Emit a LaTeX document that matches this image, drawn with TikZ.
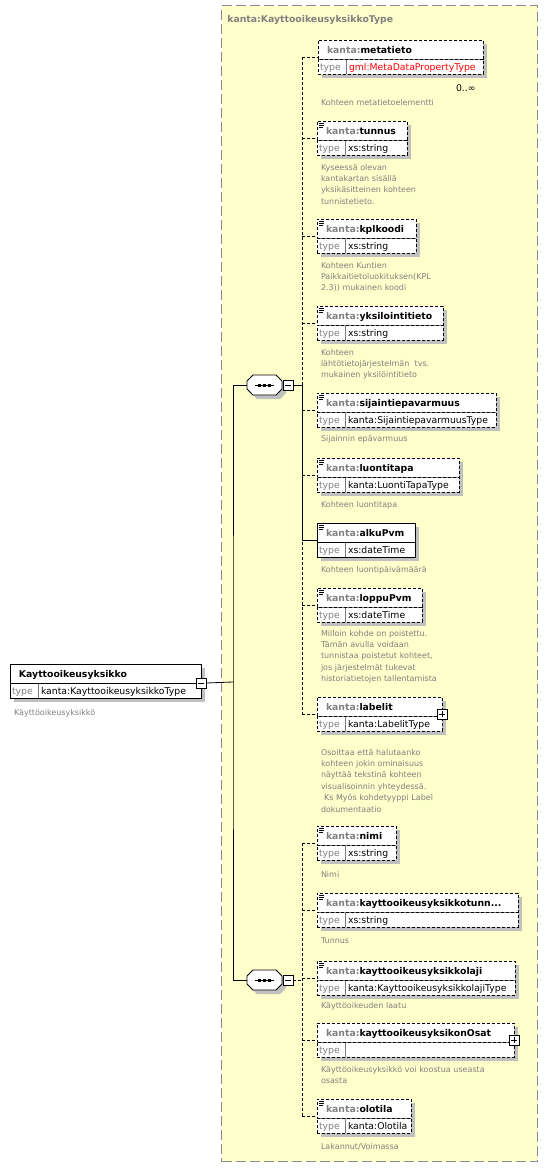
\documentclass[tikz,border=0pt]{standalone}
\usepackage{fontspec}
\setmainfont{DejaVu Sans}
\usetikzlibrary{shadows}

\definecolor{framefill}{HTML}{FFFFCC}
\definecolor{framegray}{HTML}{8C8C8C}
\definecolor{typegray}{HTML}{808080}
\definecolor{shadowgray}{HTML}{C0C0C0}
\definecolor{linegray}{HTML}{7A7A7A}

\tikzset{
  tframe/.style={draw=framegray, line width=1.2pt, dash pattern=on 10pt off 4pt,
    fill=framefill, anchor=north west, inner sep=0pt},
  ttitle/.style={anchor=base west, inner sep=0pt, text=typegray,
    font=\fontsize{9.3}{11}\selectfont\bfseries},
  boxshadow/.style={drop shadow={opacity=1, fill=shadowgray, shadow xshift=4pt, shadow yshift=-4pt}},
  ename/.style={draw, fill=white, anchor=north west, inner sep=0pt, outer sep=0pt,
    text width=#1, minimum height=19pt, text height=8pt, text depth=1pt,
    align=left, font=\fontsize{9.3}{11}\selectfont\bfseries, boxshadow},
  trow/.style={draw, fill=white, anchor=north west, inner sep=0pt, outer sep=0pt,
    text width=#1, minimum height=15pt, text height=9pt, text depth=1pt,
    align=left, font=\fontsize{9.3}{11}\selectfont, boxshadow,
    execute at begin node={\makebox[31pt][l]{\hspace{2pt}\color{typegray}type}},
    path picture={
      \draw[solid, linegray] (path picture bounding box.north west) -- (path picture bounding box.north east);
      \draw[solid, linegray] ([xshift=28pt]path picture bounding box.south west) -- ([xshift=28pt]path picture bounding box.north west);
    }},
  kanta/.style={execute at begin node={\hspace*{9pt}\textcolor{typegray}{kanta:}}},
  rootpad/.style={execute at begin node={\hspace*{9pt}}},
  icon/.style={path picture={
      \draw[solid, line width=0.7pt] ([xshift=2pt,yshift=-2pt]path picture bounding box.north west) -- ++(5pt,0pt)
        ([xshift=2pt,yshift=-4pt]path picture bounding box.north west) -- ++(5pt,0pt)
        ([xshift=2pt,yshift=-6pt]path picture bounding box.north west) -- ++(4pt,0pt);
    }},
  opt/.style={dash pattern=on 3pt off 2pt},
  desc/.style={anchor=base west, inner sep=0pt, outer sep=0pt, text width=215pt,
    align=left, font=\fontsize{8}{11.4}\selectfont, text=typegray},
  mult/.style={anchor=base east, inner sep=0pt, font=\fontsize{9.3}{11}\selectfont},
  mbox/.style={draw, solid, fill=white, minimum size=10pt, inner sep=0pt, outer sep=0pt,
    path picture={
      \draw ([xshift=2pt]path picture bounding box.west) -- ([xshift=-2pt]path picture bounding box.east);
    }},
  pbox/.style={mbox, path picture={
      \draw ([xshift=2pt]path picture bounding box.west) -- ([xshift=-2pt]path picture bounding box.east);
      \draw ([yshift=-2pt]path picture bounding box.north) -- ([yshift=2pt]path picture bounding box.south);
    }},
  seqbox/.style={minimum width=35pt, minimum height=20pt, inner sep=0pt, outer sep=0pt},
  link/.style={draw=black}
}

\begin{document}
\begin{tikzpicture}[x=1pt, y=-1pt, line width=0.8pt]
    \useasboundingbox (0,0) rectangle (547,1168);

    % KayttooikeusyksikkoType frame
    \node[tframe, minimum width=316pt, minimum height=1156pt] (KType) at (221,5) {};
    \node[ttitle] (KTypeL) at (227,22) {kanta:KayttooikeusyksikkoType};

    % root element
    \node[ename=191pt, rootpad] (root) at (10,664) {Kayttooikeusyksikko};
    \node[trow=191pt] (rootT) at (root.south west) {kanta:KayttooikeusyksikkoType};
    \node[mbox] (rootM) at (root.south east) {};
    \node[desc] (rootD) at (14,715) {Käyttöoikeusyksikkö};

    % sequences
    \node[seqbox] (seq1) at (264.5,385) {};
    \node[seqbox] (seq2) at (264.5,980) {};
    \foreach \s in {seq1,seq2} {
      \draw[fill=white, boxshadow]
        ([xshift=6pt]\s.north west) -- ([xshift=-6pt]\s.north east) -- ([yshift=-6pt]\s.north east)
        -- ([yshift=6pt]\s.south east) -- ([xshift=-6pt]\s.south east) -- ([xshift=6pt]\s.south west)
        -- ([yshift=6pt]\s.south west) -- ([yshift=-6pt]\s.north west) -- cycle;
      \draw ([xshift=-9.5pt]\s.center) -- ([xshift=9.5pt]\s.center);
      \foreach \d in {-5,0,5}
        \fill ([xshift=\d pt]\s.center) ++(-1.5pt,-1.5pt) rectangle ++(3pt,3pt);
    }
    \node[mbox, anchor=west] (seq1m) at ([xshift=1pt]seq1.east) {};
    \node[mbox, anchor=west] (seq2m) at ([xshift=1pt]seq2.east) {};
    \coordinate (fork) at (233,682);
    \coordinate (bus1) at (302,385);
    \coordinate (bus2) at (302,980);

    % metatieto
    \node[ename=165pt, opt, kanta] (metatieto) at (318,40) {metatieto};
    \node[trow=165pt, opt] (metatietoT) at (metatieto.south west) {\color{red}gml:MetaDataPropertyType};
    \node[mult] (metatietoM) at (476,91) {0..∞};
    \node[desc] (metatietoD) at (321,105) {Kohteen metatietoelementti};

    % tunnus
    \node[ename=90pt, opt, kanta, icon] (tunnus) at (317,121) {tunnus};
    \node[trow=90pt, opt] (tunnusT) at (tunnus.south west) {xs:string};
    \node[desc] (tunnusD) at (321,170) {Kyseessä olevan\\kantakartan sisällä\\yksikäsitteinen kohteen\\tunnistetieto.};

    % kplkoodi
    \node[ename=99pt, opt, kanta, icon] (kplkoodi) at (317,219) {kplkoodi};
    \node[trow=99pt, opt] (kplkoodiT) at (kplkoodi.south west) {xs:string};
    \node[desc] (kplkoodiD) at (321,268) {Kohteen Kuntien\\Paikkaitietoluokituksen(KPL\\2.3)) mukainen koodi};

    % yksilointitieto
    \node[ename=126pt, opt, kanta, icon] (yksilointitieto) at (317,306) {yksilointitieto};
    \node[trow=126pt, opt] (yksilointitietoT) at (yksilointitieto.south west) {xs:string};
    \node[desc] (yksilointitietoD) at (321,355) {Kohteen\\lähtötietojärjestelmän \ tvs.\\mukainen yksilöintitieto};

    % sijaintiepavarmuus
    \node[ename=179pt, opt, kanta, icon] (sijaintiepavarmuus) at (317,393) {sijaintiepavarmuus};
    \node[trow=179pt, opt] (sijaintiepavarmuusT) at (sijaintiepavarmuus.south west) {kanta:SijaintiepavarmuusType};
    \node[desc] (sijaintiepavarmuusD) at (321,441) {Sijainnin epävarmuus};

    % luontitapa
    \node[ename=142pt, opt, kanta, icon] (luontitapa) at (317,458) {luontitapa};
    \node[trow=142pt, opt] (luontitapaT) at (luontitapa.south west) {kanta:LuontiTapaType};
    \node[desc] (luontitapaD) at (321,507) {Kohteen luontitapa};

    % alkuPvm
    \node[ename=98pt, kanta, icon] (alkuPvm) at (317,523) {alkuPvm};
    \node[trow=98pt] (alkuPvmT) at (alkuPvm.south west) {xs:dateTime};
    \node[desc] (alkuPvmD) at (321,572) {Kohteen luontipäivämäärä};

    % loppuPvm
    \node[ename=105pt, opt, kanta, icon] (loppuPvm) at (317,588) {loppuPvm};
    \node[trow=105pt, opt] (loppuPvmT) at (loppuPvm.south west) {xs:dateTime};
    \node[desc] (loppuPvmD) at (321,636) {Milloin kohde on poistettu.\\Tämän avulla voidaan\\tunnistaa poistetut kohteet,\\jos järjestelmät tukevat\\historiatietojen tallentamista};

    % labelit
    \node[ename=125pt, opt, kanta] (labelit) at (317,697) {labelit};
    \node[trow=125pt, opt] (labelitT) at (labelit.south west) {kanta:LabelitType};
    \node[pbox] (labelitP) at ([yshift=2pt]labelit.south east) {};
    \node[desc] (labelitD) at (321,755) {Osoittaa että halutaanko\\kohteen jokin ominaisuus\\näyttää tekstinä kohteen\\visualisoinnin yhteydessä.\\\hspace*{3pt}Ks Myös kohdetyyppi Label\\dokumentaatio};

    % nimi
    \node[ename=79pt, opt, kanta, icon] (nimi) at (317,826) {nimi};
    \node[trow=79pt, opt] (nimiT) at (nimi.south west) {xs:string};
    \node[desc] (nimiD) at (321,877) {Nimi};

    % kayttooikeusyksikkotunnus
    \node[ename=201pt, opt, kanta, icon] (ktunnus) at (317,893) {kayttooikeusyksikkotunn...};
    \node[trow=201pt, opt] (ktunnusT) at (ktunnus.south west) {xs:string};
    \node[desc] (ktunnusD) at (321,943) {Tunnus};

    % kayttooikeusyksikkolaji
    \node[ename=198pt, opt, kanta, icon] (klaji) at (317,961) {kayttooikeusyksikkolaji};
    \node[trow=198pt, opt] (klajiT) at (klaji.south west) {kanta:KayttooikeusyksikkolajiType};
    \node[desc] (klajiD) at (321,1008) {Käyttöoikeuden laatu};

    % kayttooikeusyksikonOsat
    \node[ename=197pt, opt, kanta] (kosat) at (317,1023) {kayttooikeusyksikonOsat};
    \node[trow=197pt, opt] (kosatT) at (kosat.south west) {};
    \node[pbox] (kosatP) at ([yshift=2pt]kosat.south east) {};
    \node[desc] (kosatD) at (321,1072) {Käyttöoikeusyksikkö voi koostua useasta\\osasta};

    % olotila
    \node[ename=94pt, opt, kanta, icon] (olotila) at (317,1099) {olotila};
    \node[trow=94pt, opt] (olotilaT) at (olotila.south west) {kanta:Olotila};
    \node[desc] (olotilaD) at (321,1149) {Lakannut/Voimassa};

    % Draw connectors
    \draw[link] (rootM.east) -- (fork);
    \draw[link] (seq1.west) -| (fork) |- (seq2.west);
    \draw[link] (seq1m.east) -- (bus1);
    \draw[link, opt] (seq2m.east) -- (bus2);
    \draw[link, opt] ([yshift=2pt]metatieto.south west -| bus1) -- ([yshift=2pt]labelit.south west -| bus1);
    \draw[link] (bus1) -- ([yshift=2pt]alkuPvm.south west -| bus1);
    \draw[link, opt] ([yshift=2pt]nimi.south west -| bus2) -- ([yshift=2pt]olotila.south west -| bus2);
    \draw[link, opt] ([yshift=2pt]metatieto.south west -| bus1) -- ([yshift=2pt]metatieto.south west);
    \draw[link, opt] ([yshift=2pt]tunnus.south west -| bus1) -- ([yshift=2pt]tunnus.south west);
    \draw[link, opt] ([yshift=2pt]kplkoodi.south west -| bus1) -- ([yshift=2pt]kplkoodi.south west);
    \draw[link, opt] ([yshift=2pt]yksilointitieto.south west -| bus1) -- ([yshift=2pt]yksilointitieto.south west);
    \draw[link, opt] ([yshift=2pt]sijaintiepavarmuus.south west -| bus1) -- ([yshift=2pt]sijaintiepavarmuus.south west);
    \draw[link, opt] ([yshift=2pt]luontitapa.south west -| bus1) -- ([yshift=2pt]luontitapa.south west);
    \draw[link] ([yshift=2pt]alkuPvm.south west -| bus1) -- ([yshift=2pt]alkuPvm.south west);
    \draw[link, opt] ([yshift=2pt]loppuPvm.south west -| bus1) -- ([yshift=2pt]loppuPvm.south west);
    \draw[link, opt] ([yshift=2pt]labelit.south west -| bus1) -- ([yshift=2pt]labelit.south west);
    \draw[link, opt] ([yshift=2pt]nimi.south west -| bus2) -- ([yshift=2pt]nimi.south west);
    \draw[link, opt] ([yshift=2pt]ktunnus.south west -| bus2) -- ([yshift=2pt]ktunnus.south west);
    \draw[link, opt] ([yshift=2pt]klaji.south west -| bus2) -- ([yshift=2pt]klaji.south west);
    \draw[link, opt] ([yshift=2pt]kosat.south west -| bus2) -- ([yshift=2pt]kosat.south west);
    \draw[link, opt] ([yshift=2pt]olotila.south west -| bus2) -- ([yshift=2pt]olotila.south west);

\end{tikzpicture}
\end{document}
